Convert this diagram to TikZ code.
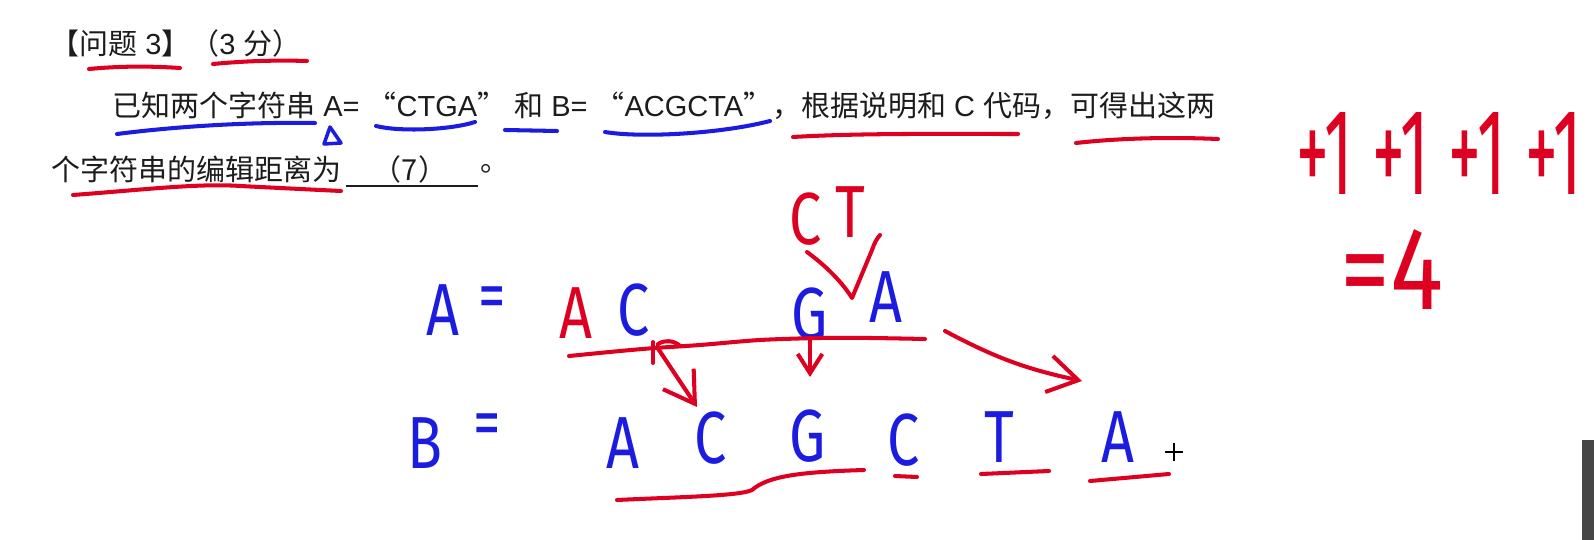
\documentclass[tikz,border=0pt]{standalone}
\usepackage{fontspec}
\setmainfont{Liberation Sans}
\newfontfamily\cjk{Noto Sans CJK SC}
\newfontfamily\handfont[FakeStretch=0.78]{Fira Sans}
\newfontfamily\handplain{Fira Sans}
\usetikzlibrary{calc}
\usetikzlibrary{arrows.meta}
\definecolor{inkred}{RGB}{222,0,32}
\definecolor{inkblue}{RGB}{28,28,225}
\definecolor{printgray}{RGB}{28,28,28}

\begin{document}
\begin{tikzpicture}[x=0.02cm,y=-0.02cm,
  txt/.style={anchor=west,inner sep=0pt,text=printgray,font=\fontsize{16.5}{18}\selectfont},
  ink/.style={line width=2.3pt,line cap=round,line join=round},
  red ink/.style={ink,draw=inkred},
  blue ink/.style={ink,draw=inkblue},
  hw/.style={inner sep=0pt,font=\handfont\fontsize{42}{42}\selectfont},
  hweq/.style={inner sep=0pt,font=\handfont\fontsize{40}{40}\selectfont,text=inkblue},
  sum/.style={inner sep=0pt,font=\handplain\fontsize{60}{60}\selectfont,text=inkred},
  bighead/.style={-{Straight Barb[length=17pt,width=21pt]}},
  smallhead/.style={-{Straight Barb[length=11pt,width=14pt]}}
]
\useasboundingbox (0,0) rectangle (1594,540);

% printed question
\node[txt] (title) at (50,43) {{\cjk 【问题} 3{\cjk 】（}3 {\cjk 分）}};
\node[txt] (line2) at (112,106) {{\cjk 已知两个字符串} A= {\cjk “}CTGA{\cjk ”} {\cjk 和} B= {\cjk “}ACGCTA{\cjk ”，根据说明和} C {\cjk 代码，可得出这两}};
\node[txt] (line3) at (51,169) {\cjk 个字符串的编辑距离为};
\node[txt,anchor=center] (ans) at (410,169) {\cjk （7）};
\node[txt] (stop) at (480,169) {\cjk 。};
\draw[printgray,line width=1.3pt] (346,186) -- (478,186);

% marks on the question
\draw[red ink] (89,69) .. controls (120,66) and (150,66) .. (180,68);
\draw[red ink] (213,64) .. controls (245,61) and (275,60) .. (307,61);
\draw[blue ink] (117,134) .. controls (180,126) and (250,122) .. (315,123);
\draw[blue ink,line width=2pt] (330,127) -- (324,144) -- (341,143) -- cycle;
\draw[blue ink] (376,126) .. controls (400,132) and (450,130) .. (475,122);
\draw[blue ink] (505,130) -- (557,131);
\draw[blue ink] (605,132) .. controls (640,138) and (720,134) .. (770,121);
\draw[red ink] (793,137) .. controls (860,133) and (950,134) .. (1018,134);
\draw[red ink] (1076,143) .. controls (1120,138) and (1170,137) .. (1218,139);
\draw[red ink] (73,195) .. controls (140,190) and (200,183) .. (240,186) .. controls (280,188) and (320,190) .. (341,191);

% string A
\node[hw,text=inkblue] (aname) at (443,310) {A};
\node[hweq] (aeq) at (492,303) {=};
\node[hw,text=inkred] (a1) at (576,313) {A};
\node[hw,text=inkblue] (a2) at (634,310) {C};
\node[hw,text=inkblue] (a3) at (810,314) {G};
\node[hw,text=inkblue] (a4) at (886,297) {A};
\node[hw,text=inkred] (ins1) at (806,219) {C};
\node[hw,text=inkred] (ins2) at (850,212) {T};
\draw[red ink] (807,252) .. controls (826,266) and (842,282) .. (852,298) -- (872,250) .. controls (874,244) and (877,238) .. (880,235);
\draw[red ink] plot[smooth] coordinates {(569,356) (620,351) (655,348) (700,345) (760,340) (820,338) (870,338) (925,339)};
\draw[red ink] (658,344) .. controls (664,340) and (674,340) .. (680,346);
\draw[red ink] (653,342) -- (653,363);

% string B
\node[hw,text=inkblue] (bname) at (425,443) {B};
\node[hweq] (beq) at (487,430) {=};
\node[hw,text=inkblue] (b1) at (623,443) {A};
\node[hw,text=inkblue] (b2) at (711,438) {C};
\node[hw,text=inkblue] (b3) at (808,436) {G};
\node[hw,text=inkblue] (b4) at (904,440) {C};
\node[hw,text=inkblue] (b5) at (999,437) {T};
\node[hw,text=inkblue] (b6) at (1118,437) {A};
\draw[red ink] (617,500) .. controls (680,497) and (740,496) .. (752,490) .. controls (768,476) and (800,472) .. (864,470);
\draw[red ink] (895,476) -- (917,477);
\draw[red ink] (981,474) -- (1049,471);
\draw[red ink] (1090,481) -- (1169,474);

% alignment arrows
\draw[red ink,bighead] ($(a2)+(23,37)$) -- ($(b2)+(-14,-31)$);
\draw[red ink,smallhead] ($(a3)+(0,25)$) -- ($(b3)+(2,-59)$);
\draw[red ink,bighead] ($(a4)+(59,34)$) to[bend right=8] ($(b6)+(-36,-56)$);

% cost
\node[sum] (cost) at (1439,154) {\resizebox{5.72cm}{1.64cm}{+1\hspace{0.3em}+1\hspace{0.3em}+1\hspace{0.3em}+1}};
\node[sum] (total) at (1392,270) {\resizebox{2.06cm}{1.6cm}{=4}};

\draw[black,line width=0.8pt] (1165,452) -- (1183,452) (1174,443) -- (1174,461);
\fill[gray!55!black] (1582,440) rectangle (1594,540);
\end{tikzpicture}
\end{document}
